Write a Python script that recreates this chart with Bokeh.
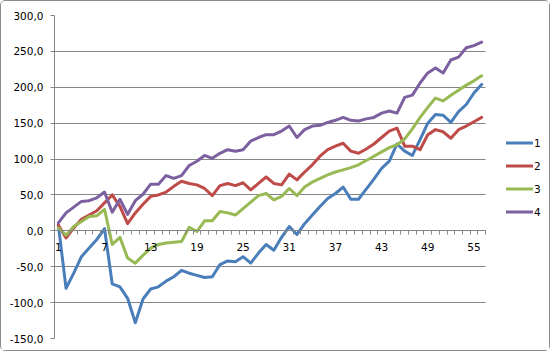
from bokeh.plotting import figure
from bokeh.models import FixedTicker, Legend, LegendItem, ColumnDataSource
from bokeh.embed import file_html
from bokeh.resources import INLINE

categories = list(range(1, 57))
s1 = [8, -80, -59, -36, -24, -12, 3, -74, -78, -94, -128, -95, -81, -78, -70, -64, -55, -59, -62, -65,
      -64, -47, -42, -43, -36, -45, -31, -19, -27, -9, 6, -5, 10, 22, 34, 45, 52, 61, 44, 44,
      58, 72, 87, 97, 121, 111, 105, 127, 150, 162, 161, 151, 166, 176, 192, 204]
s2 = [8, -10, 4, 16, 22, 28, 39, 50, 34, 10, 25, 37, 48, 50, 54, 62, 69, 66, 64, 59,
      49, 63, 66, 63, 67, 57, 66, 75, 66, 64, 79, 71, 82, 92, 104, 113, 118, 122, 111, 108,
      114, 121, 130, 139, 143, 118, 118, 113, 134, 141, 138, 129, 141, 146, 152, 158]
s3 = [4, -6, 6, 13, 20, 21, 30, -19, -9, -38, -45, -34, -24, -19, -17, -16, -15, 5, -1, 14,
      14, 27, 25, 22, 31, 40, 49, 52, 43, 48, 59, 49, 61, 68, 73, 78, 82, 85, 88, 92,
      98, 104, 110, 116, 120, 128, 142, 158, 172, 185, 181, 189, 196, 203, 209, 216]
s4 = [11, 25, 33, 41, 42, 46, 54, 26, 44, 23, 42, 51, 65, 65, 77, 73, 77, 91, 97, 105,
      101, 108, 113, 111, 113, 125, 130, 134, 134, 139, 146, 130, 141, 146, 147, 151, 154, 158, 154, 153,
      156, 158, 164, 167, 164, 186, 189, 206, 220, 227, 220, 238, 242, 255, 258, 263]
series_names = ["1", "2", "3", "4"]
colors = ["#4A7EBB", "#BE4B48", "#98B954", "#7D60A0"]
x_tick_values = [1, 7, 13, 19, 25, 31, 37, 43, 49, 55]
y_tick_values = [-150, -100, -50, 0, 50, 100, 150, 200, 250, 300]
y_tick_labels = ["-150,0", "-100,0", "-50,0", "0,0", "50,0", "100,0", "150,0", "200,0", "250,0", "300,0"]

FONT = "DejaVu Sans"
GRID = "#868686"

W, H = 550, 351
LEFT, RIGHT_PLOT_EDGE, TOP, BOTTOM = 53, 484, 14, 14
n_cat = len(categories)
px_per_cat = (RIGHT_PLOT_EDGE - LEFT) / n_cat
x_start = 0.5
x_end = x_start + (W - LEFT) / px_per_cat   # frame runs to the right edge so the legend is not clipped
cat_lo, cat_hi = 0.5, n_cat + 0.5

p = figure(width=W, height=H, output_backend="svg", toolbar_location=None,
           x_range=(x_start, x_end), y_range=(-150, 300),
           min_border_left=LEFT, min_border_right=0, min_border_top=TOP, min_border_bottom=BOTTOM)
p.styles = {"border": "1px solid #8c8c8c", "border-radius": "5px", "box-sizing": "border-box"}
p.outline_line_color = None
p.background_fill_color = "white"
p.border_fill_color = "white"

p.xgrid.grid_line_color = None
grid = p.ygrid[0]
if "cross_bounds" in grid.properties():
    grid.ticker = FixedTicker(ticks=y_tick_values)
    grid.grid_line_color = GRID
    grid.cross_bounds = (cat_lo, cat_hi)
else:
    grid.grid_line_color = None
    p.segment(x0=[cat_lo] * len(y_tick_values), x1=[cat_hi] * len(y_tick_values),
              y0=y_tick_values, y1=y_tick_values, line_color=GRID, line_width=1)

# y axis
p.yaxis.ticker = FixedTicker(ticks=y_tick_values)
p.yaxis.major_label_overrides = {v: l for v, l in zip(y_tick_values, y_tick_labels)}
p.yaxis.axis_line_color = GRID
p.yaxis.major_tick_line_color = GRID
p.yaxis.major_tick_out = 4
p.yaxis.major_tick_in = 0
p.yaxis.minor_tick_line_color = None
p.yaxis.major_label_text_font = FONT
p.yaxis.major_label_text_font_size = "10.5px"
p.yaxis.major_label_text_color = "black"
p.yaxis.major_label_standoff = 7

# x axis crossing at zero
p.xaxis.fixed_location = 0
p.xaxis.bounds = (cat_lo, cat_hi)
p.xaxis.ticker = FixedTicker(ticks=x_tick_values, minor_ticks=[c + 0.5 for c in range(0, n_cat + 1)])
p.xaxis.axis_line_color = GRID
p.xaxis.major_tick_line_color = None
p.xaxis.major_tick_out = 0
p.xaxis.major_tick_in = 0
p.xaxis.minor_tick_line_color = GRID
p.xaxis.minor_tick_out = 4
p.xaxis.minor_tick_in = 0
p.xaxis.major_label_text_font = FONT
p.xaxis.major_label_text_font_size = "10.5px"
p.xaxis.major_label_text_color = "black"
p.xaxis.major_label_standoff = 8

items = []
for name, data, col in zip(series_names, [s1, s2, s3, s4], colors):
    src = ColumnDataSource(dict(x=categories, y=data))
    r = p.line("x", "y", source=src, line_color=col, line_width=3, line_join="round", line_cap="round")
    items.append(LegendItem(label=name, renderers=[r]))

legend = Legend(items=items, location=(452, 115), border_line_color=None,
                background_fill_alpha=0, padding=0, margin=0, spacing=0,
                glyph_width=27, glyph_height=23, label_height=23, label_standoff=1,
                label_text_font=FONT, label_text_font_size="10.5px", label_text_color="black")
p.add_layout(legend, "center")

open("out.html", "w").write(file_html(p, INLINE))
